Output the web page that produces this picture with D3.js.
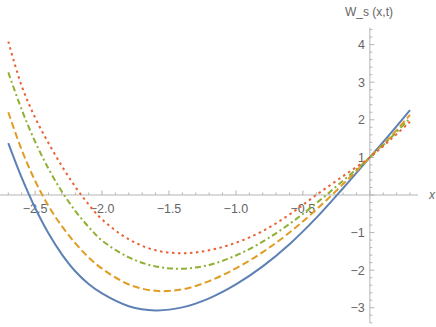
<!DOCTYPE html>
<html>
<head>
<meta charset="utf-8">
<script src="https://cdn.jsdelivr.net/npm/d3@7"></script>
<style>
  body { margin: 0; background: #fff; }
  svg { display: block; }
  text { font-family: "Liberation Sans", Arial, sans-serif; fill: #666; }
</style>
</head>
<body>
<div id="chart"></div>
<script>
// values
const xs = [-2.7, -2.6, -2.5, -2.4, -2.3, -2.2, -2.1, -2.0, -1.8, -1.6, -1.4, -1.2, -1.0, -0.8, -0.6, -0.4, -0.2, 0, 0.15, 0.3];
const blue   = [1.38, 0.46, -0.34, -1.02, -1.58, -2.03, -2.37, -2.62, -2.96, -3.07, -2.99, -2.75, -2.38, -1.90, -1.31, -0.61, 0.18, 1.0, 1.62, 2.26];
const orange = [2.20, 1.20, 0.38, -0.29, -0.83, -1.28, -1.66, -1.96, -2.38, -2.55, -2.51, -2.29, -1.95, -1.52, -1.00, -0.39, 0.29, 1.0, 1.53, 2.13];
const green  = [3.26, 2.27, 1.42, 0.70, 0.09, -0.42, -0.85, -1.21, -1.66, -1.90, -1.96, -1.86, -1.61, -1.24, -0.77, -0.22, 0.38, 1.0, 1.50, 2.04];
const red    = [4.08, 2.90, 2.06, 1.38, 0.77, 0.22, -0.25, -0.65, -1.18, -1.47, -1.55, -1.47, -1.27, -0.96, -0.52, 0.0, 0.50, 1.0, 1.46, 1.95];

const xMajor = [-2.5, -2.0, -1.5, -1.0, -0.5];
const yMajor = [-3, -2, -1, 1, 2, 3, 4];

const series = [
    { values: blue,   color: '#5e81b5', dash: null },
    { values: orange, color: '#e19c24', dash: '7,3.5' },
    { values: green,  color: '#8fb032', dash: '6,3,2,3' },
    { values: red,    color: '#eb6235', dash: '2.5,3.5' }
];

const width = 436, height = 327;

const svg = d3.select('#chart').append('svg')
    .attr('width', width)
    .attr('height', height);

const x = d3.scaleLinear().domain([-2.7, 0.3]).range([8.3, 410]);
const y = d3.scaleLinear().domain([-3.4, 4.45]).range([322.8, 27.7]);

const axisColor = '#b3b3b3';

// minor ticks
const xMinor = d3.range(-27, 4).map(d => d / 10);
const yMinor = d3.range(-17, 23).map(d => d / 5);

// x axis
const gx = svg.append('g');
gx.append('line')
    .attr('x1', 0).attr('x2', 418)
    .attr('y1', y(0)).attr('y2', y(0))
    .attr('stroke', axisColor).attr('stroke-width', 1);
gx.selectAll('line.minor')
    .data(xMinor)
    .enter()
    .append('line')
    .attr('class', 'minor')
    .attr('x1', d => x(d)).attr('x2', d => x(d))
    .attr('y1', y(0)).attr('y2', d => y(0) - (Math.abs(d * 2 - Math.round(d * 2)) < 1e-6 ? 4.5 : 2.5))
    .attr('stroke', axisColor).attr('stroke-width', 1);
gx.selectAll('text')
    .data(xMajor)
    .enter()
    .append('text')
    .attr('x', d => x(d))
    .attr('y', y(0) + 18)
    .attr('text-anchor', 'middle')
    .attr('font-size', 12.5)
    .text(d => d3.format('.1f')(d).replace('-', '\u2212'));

// y axis
const gy = svg.append('g');
gy.append('line')
    .attr('x1', x(0)).attr('x2', x(0))
    .attr('y1', y.range()[0]).attr('y2', y.range()[1])
    .attr('stroke', axisColor).attr('stroke-width', 1);
gy.selectAll('line.minor')
    .data(yMinor)
    .enter()
    .append('line')
    .attr('class', 'minor')
    .attr('y1', d => y(d)).attr('y2', d => y(d))
    .attr('x1', x(0)).attr('x2', d => x(0) + (Math.abs(d - Math.round(d)) < 1e-6 ? 4.5 : 2.5))
    .attr('stroke', axisColor).attr('stroke-width', 1);
gy.selectAll('text')
    .data(yMajor)
    .enter()
    .append('text')
    .attr('x', x(0) - 5)
    .attr('y', d => y(d))
    .attr('dy', '0.36em')
    .attr('text-anchor', 'end')
    .attr('font-size', 12.5)
    .text(d => String(d).replace('-', '\u2212'));

// axis labels
svg.append('text')
    .attr('x', 345).attr('y', 16)
    .attr('font-size', 12)
    .text('W_s (x,t)');
svg.append('text')
    .attr('x', 429).attr('y', y(0) + 4)
    .attr('font-size', 12)
    .attr('font-style', 'italic')
    .text('x');

// curves
const line = d3.line()
    .x((d, i) => x(xs[i]))
    .y(d => y(d))
    .curve(d3.curveCatmullRom.alpha(0.5));

series.forEach(s => {
    svg.append('path')
        .datum(s.values)
        .attr('d', line)
        .attr('fill', 'none')
        .attr('stroke', s.color)
        .attr('stroke-width', 2)
        .attr('stroke-dasharray', s.dash);
});
</script>
</body>
</html>
